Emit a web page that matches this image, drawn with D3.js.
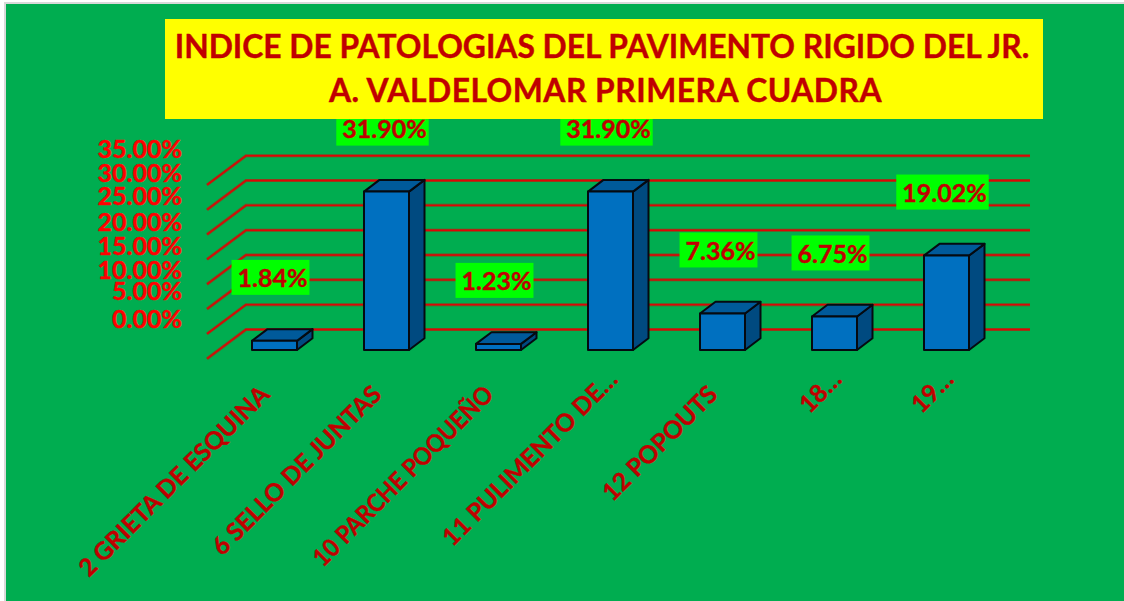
<!DOCTYPE html>
<html lang="es">
<head>
<title>Indice de patologias</title>
<meta charset="utf-8">
<script src="https://d3js.org/d3.v7.min.js"></script>
<style>
	html, body { margin: 0; padding: 0; background: #fff; }
	svg { display: block; }
	text { font-family: Lato, "Open Sans", sans-serif; font-weight: bold; stroke-width: 0.4; paint-order: stroke; }
</style>
</head>
<body>
<div id="chart"></div>

<script type="text/javascript">
	// data
	var categories = ['2 GRIETA DE ESQUINA', '6 SELLO DE JUNTAS', '10 PARCHE POQUEÑO', '11 PULIMENTO DE…', '12 POPOUTS', '18…', '19…'];
	var values = [1.84, 31.90, 1.23, 31.90, 7.36, 6.75, 19.02];
	var tick_values = [0, 5, 10, 15, 20, 25, 30, 35];
	var title_lines = ['INDICE DE PATOLOGIAS DEL PAVIMENTO RIGIDO DEL JR.', 'A. VALDELOMAR PRIMERA CUADRA'];

	var width = 1124,
		height = 601;

	var svg = d3.select("#chart")
		.append("svg")
		.attr("width", width)
		.attr("height", height);

	// chart area
	svg.append("rect").attr("x", 4).attr("y", 2).attr("width", width).attr("height", height).attr("fill", "#d9d9d9");
	svg.append("rect").attr("x", 6).attr("y", 4).attr("width", width).attr("height", height).attr("fill", "#00ad50");

	// scales
	var x = d3.scaleBand().domain(categories).range([207, 991]);
	var bar_w = 45,
		bar_off = 45;
	var y = d3.scaleLinear().domain([0, 35]).range([350, 176.2]);
	var wall_shift = -20.5,
		floor_dx = 39,
		floor_dy = -29.2,
		bar_dx = 15.5,
		bar_dy = -11.7;

	// gridlines, drawn on the back wall and down the left wall
	function grid_path(d) {
		var yb = y(d) + wall_shift;
		return "M" + x.range()[0] + "," + (yb - floor_dy) + "L" + (x.range()[0] + floor_dx) + "," + yb + "L1030," + yb;
	}
	var grid = svg.append("g").attr("fill", "none");
	grid.selectAll(".grid_dark").data(tick_values).enter().append("path")
		.attr("d", grid_path).attr("stroke", "#7f4a20").attr("stroke-width", 3);
	grid.selectAll(".grid_red").data(tick_values).enter().append("path")
		.attr("d", grid_path).attr("stroke", "#dd0505").attr("stroke-width", 1.4);

	// y axis labels sit on a tighter spacing than the gridlines
	var label_y = d3.scaleLinear().domain([0, 35]).range([319, 149]);
	var label_nudge = {5: -3.5, 25: -1.5};
	var y_axis = d3.axisLeft(label_y)
		.tickValues(tick_values)
		.tickSize(0)
		.tickPadding(0)
		.tickFormat(function(d) { return d3.format(".2f")(d) + "%"; });
	var y_g = svg.append("g").attr("transform", "translate(182,0)").call(y_axis);
	y_g.select(".domain").remove();
	y_g.selectAll("text")
		.attr("fill", "#ff0000")
		.attr("stroke", "#ff0000")
		.style("font-size", "25px")
		.attr("dy", function(d) { return (label_nudge[d] || 0) + 8.5; });

	// x axis labels, the cut off ones reach further up the slant
	var x_axis = d3.axisBottom(x).tickSize(0).tickPadding(0);
	var x_g = svg.append("g").attr("transform", "translate(0,385)").call(x_axis);
	x_g.select(".domain").remove();
	x_g.selectAll("text")
		.attr("fill", "#c00000")
		.attr("stroke", "#c00000")
		.attr("text-anchor", "end")
		.style("font-size", "24.5px")
		.attr("dy", 0)
		.attr("transform", function(d) {
			var cut = d.indexOf("…") > -1;
			var squeeze = d.indexOf("POQUE") > -1 ? " scale(0.93,1)" : "";
			return "translate(" + (cut ? 20 : 8) + "," + (cut ? -4 : 11) + ") rotate(-45)" + squeeze;
		});

	// 3d bars
	var bars = svg.append("g").attr("stroke", "#050a10").attr("stroke-width", 2).attr("stroke-linejoin", "round");
	bars.selectAll(".side").data(values).enter().append("path")
		.attr("fill", "#004a80")
		.attr("d", function(d, i) {
			var x1 = x(categories[i]) + bar_off + bar_w;
			return "M" + x1 + "," + y(d) + "L" + (x1 + bar_dx) + "," + (y(d) + bar_dy) +
				"L" + (x1 + bar_dx) + "," + (y(0) + bar_dy) + "L" + x1 + "," + y(0) + "Z";
		});
	bars.selectAll(".top").data(values).enter().append("path")
		.attr("fill", "#005a9a")
		.attr("d", function(d, i) {
			var x0 = x(categories[i]) + bar_off;
			return "M" + x0 + "," + y(d) + "L" + (x0 + bar_dx) + "," + (y(d) + bar_dy) +
				"L" + (x0 + bar_w + bar_dx) + "," + (y(d) + bar_dy) + "L" + (x0 + bar_w) + "," + y(d) + "Z";
		});
	bars.selectAll(".front").data(values).enter().append("rect")
		.attr("fill", "#0070c0")
		.attr("x", function(d, i) { return x(categories[i]) + bar_off; })
		.attr("y", function(d) { return y(d); })
		.attr("width", bar_w)
		.attr("height", function(d) { return y(0) - y(d); });

	// data labels, green boxes floating above each bar
	var labels = svg.append("g").selectAll("g").data(values).enter().append("g")
		.attr("transform", function(d, i) {
			return "translate(" + (x(categories[i]) + bar_off + bar_w / 2 - 4) + "," + (y(d) - 63.5) + ")";
		});
	var label_text = labels.append("text")
		.attr("text-anchor", "middle")
		.attr("dy", 10)
		.attr("x", 2)
		.attr("fill", "#c00000")
		.attr("stroke", "#c00000")
		.style("font-size", "25px")
		.text(function(d) { return d3.format(".2f")(d) + "%"; });
	labels.insert("rect", "text")
		.attr("fill", "#00ff00")
		.attr("y", -17.5)
		.attr("height", 35)
		.attr("x", function() { return -(this.parentNode.querySelector("text").getBBox().width + 8) / 2; })
		.attr("width", function() { return this.parentNode.querySelector("text").getBBox().width + 8; });

	// title
	svg.append("rect").attr("x", 165).attr("y", 19).attr("width", 878).attr("height", 100).attr("fill", "#ffff00");
	svg.append("g").selectAll("text").data(title_lines).enter().append("text")
		.attr("x", function(d, i) { return i ? 605.5 : 602; })
		.attr("y", function(d, i) { return 58 + i * 44; })
		.attr("text-anchor", "middle")
		.attr("fill", "#c00000")
		.attr("stroke", "#c00000")
		.style("letter-spacing", function(d, i) { return i ? "0.5px" : "0"; })
		.style("font-size", "31.8px")
		.text(function(d) { return d; });
</script>

</body>
</html>
